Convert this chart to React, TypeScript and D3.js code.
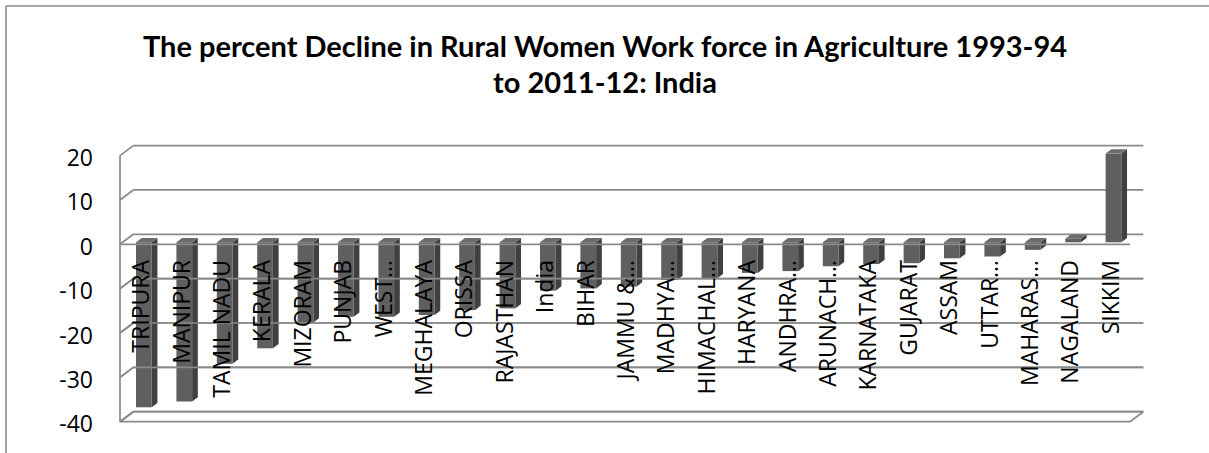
import React from "react";
import * as d3 from "d3";

const titleLines = [
  "The percent Decline in Rural Women Work force in Agriculture 1993-94",
  "to 2011-12: India",
];

const categories = [
  "TRIPURA", "MANIPUR", "TAMIL NADU", "KERALA", "MIZORAM", "PUNJAB", "WEST…",
  "MEGHALAYA", "ORISSA", "RAJASTHAN", "India", "BIHAR", "JAMMU &…", "MADHYA…",
  "HIMACHAL…", "HARYANA", "ANDHRA…", "ARUNACH…", "KARNATAKA", "GUJARAT", "ASSAM",
  "UTTAR…", "MAHARAS…", "NAGALAND", "SIKKIM",
];

const values = [
  -37.2, -35.9, -27.4, -23.9, -18.1, -16.8, -16.8, -16.4, -15.3, -14.9, -10.9,
  -10.4, -10.0, -8.5, -8.1, -6.9, -6.5, -5.4, -4.9, -4.7, -3.6, -3.2, -1.7, 0.8, 20.0,
];

const tickValues = [20, 10, 0, -10, -20, -30, -40];

const W = 1209;
const H = 453;

export default function App() {
  const x0 = 120;
  const x1 = 1130;
  const depthX = 13.3;
  const depthY = 10;
  const x = d3.scaleBand<string>().domain(categories).range([x0, x1]);
  const y = d3.scaleLinear().domain([-40, 20]).range([421.7, 155.6]);
  const barW = 15.7;
  const dF = 0.2; // depth of bar front face
  const dB = 0.43; // bar depth
  const grid = "#8a8a8a";
  const gw = 1.7;

  const gridLines = (filter: (v: number) => boolean, keyp: string) =>
    tickValues.filter(filter).map((v) => (
      <g key={keyp + v}>
        <line x1={x0 + depthX} x2={x1 + depthX} y1={y(v) - depthY} y2={y(v) - depthY} stroke={grid} strokeWidth={gw} />
        <line x1={x0} x2={x0 + depthX} y1={y(v)} y2={y(v) - depthY} stroke={grid} strokeWidth={gw} />
      </g>
    ));

  const bars = categories.map((c, i) => {
    const v = values[i];
    const cx = (x(c) as number) + x.bandwidth() / 2 + 1;
    const fx0 = cx - barW / 2 + dF * depthX;
    const fx1 = fx0 + barW;
    const yTop = Math.min(y(v), y(0)) - dF * depthY;
    const yBot = Math.max(y(v), y(0)) - dF * depthY;
    const ddx = dB * depthX;
    const ddy = dB * depthY;
    const side = [[fx1, yTop], [fx1 + ddx, yTop - ddy], [fx1 + ddx, yBot - ddy], [fx1, yBot]];
    const top = [[fx0, yTop], [fx1, yTop], [fx1 + ddx, yTop - ddy], [fx0 + ddx, yTop - ddy]];
    const pts = (p: number[][]) => p.map((q) => q.join(",")).join(" ");
    return (
      <g key={c}>
        <polygon points={pts(side)} fill="#404040" />
        <polygon points={pts(top)} fill="#6c6c6c" />
        <rect x={fx0} y={yTop} width={barW} height={yBot - yTop} fill="#5f5f5f" />
      </g>
    );
  });

  return (
    <svg width={W} height={H} style={{ position: "absolute", left: 0, top: 0, background: "#fff" }}>
      <rect x={0} y={0} width={W} height={H} fill="#fff" />
      <line x1={6} x2={W} y1={6} y2={6} stroke="#8a8a8a" strokeWidth={1.6} />
      <line x1={6} x2={6} y1={6} y2={H} stroke="#8a8a8a" strokeWidth={1.6} />
      {titleLines.map((t, i) => (
        <text key={t} x={605} y={56.7 + i * 36.6} textAnchor="middle" fontFamily="Lato" fontWeight="bold" fontSize={29} fill="#000">
          {t}
        </text>
      ))}
      {/* left wall front edge */}
      <line x1={x0} x2={x0} y1={y(20)} y2={y(-40)} stroke={grid} strokeWidth={gw} />
      {gridLines(() => true, "b")}
      {/* floor bottom */}
      <line x1={x0} x2={x1} y1={y(-40)} y2={y(-40)} stroke={grid} strokeWidth={gw} />
      <line x1={x1} x2={x1 + depthX} y1={y(-40)} y2={y(-40) - depthY} stroke={grid} strokeWidth={gw} />
      {bars}
      {gridLines((v) => v < 0, "f")}
      <line x1={x0} x2={x1} y1={y(0)} y2={y(0)} stroke={grid} strokeWidth={gw} />
      {tickValues.map((v) => (
        <text key={v} x={93} y={y(v) + 1.5} textAnchor="end" dominantBaseline="central" fontFamily="Open Sans" fontSize={23} fill="#000">
          {v}
        </text>
      ))}
      {categories.map((c) => {
        const cx = (x(c) as number) + x.bandwidth() / 2 + 1;
        return (
          <text key={c} transform={`translate(${cx + 8},260) rotate(-90)`} textAnchor="end" fontFamily="Open Sans" fontSize={23} fill="#000">
            {c}
          </text>
        );
      })}
    </svg>
  );
}
